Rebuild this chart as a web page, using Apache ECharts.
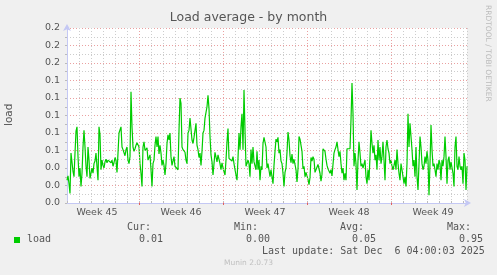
<!DOCTYPE html>
<html>
<head>
<meta charset="utf-8">
<script src="https://cdn.jsdelivr.net/npm/echarts@6/dist/echarts.min.js"></script>
<style>
  html, body { margin: 0; padding: 0; background: #f0f0f0; }
  #chart { width: 497px; height: 275px; }
</style>
</head>
<body>
<div id="chart"></div>
<script>
// load average, one sample every 2 hours starting Mon Nov 3 00:00
const loadAvg = [
  0.026, 0.031, 0.022, 0.011, 0.057, 0.057, 0.036, 0.030, 0.057, 0.082,
  0.087, 0.053, 0.030, 0.040, 0.019, 0.034, 0.064, 0.083, 0.064, 0.042,
  0.030, 0.064, 0.049, 0.028, 0.028, 0.040, 0.034, 0.045, 0.048, 0.057,
  0.055, 0.026, 0.087, 0.078, 0.038, 0.049, 0.043, 0.040, 0.047, 0.050,
  0.046, 0.049, 0.051, 0.048, 0.046, 0.049, 0.042, 0.046, 0.052, 0.049,
  0.035, 0.057, 0.080, 0.080, 0.087, 0.064, 0.061, 0.059, 0.054, 0.061,
  0.064, 0.049, 0.045, 0.053, 0.127, 0.087, 0.064, 0.059, 0.062, 0.066,
  0.069, 0.070, 0.064, 0.045, 0.034, 0.019, 0.064, 0.070, 0.060, 0.059,
  0.063, 0.049, 0.049, 0.055, 0.038, 0.019, 0.045, 0.049, 0.066, 0.076,
  0.064, 0.076, 0.056, 0.066, 0.057, 0.043, 0.049, 0.043, 0.032, 0.045,
  0.068, 0.078, 0.072, 0.080, 0.053, 0.043, 0.042, 0.053, 0.042, 0.042,
  0.043, 0.038, 0.083, 0.120, 0.114, 0.064, 0.061, 0.062, 0.058, 0.049,
  0.045, 0.080, 0.083, 0.097, 0.095, 0.072, 0.068, 0.075, 0.083, 0.091,
  0.066, 0.061, 0.052, 0.057,
  0.043, 0.059, 0.080, 0.083, 0.097, 0.096, 0.110, 0.123, 0.108, 0.076,
  0.055, 0.047, 0.032, 0.045, 0.058, 0.059, 0.047, 0.055, 0.050, 0.045,
  0.038, 0.046, 0.040, 0.040, 0.032, 0.049, 0.070, 0.085, 0.051, 0.049,
  0.052, 0.048, 0.053, 0.045, 0.038, 0.036, 0.026, 0.051, 0.080, 0.061,
  0.087, 0.102, 0.061, 0.129, 0.083, 0.042, 0.040, 0.049, 0.045, 0.030,
  0.061, 0.045, 0.064, 0.047, 0.049, 0.038, 0.059, 0.038, 0.049, 0.026,
  0.042, 0.038, 0.068, 0.075, 0.077, 0.064, 0.040, 0.045, 0.043, 0.030,
  0.038, 0.037, 0.022, 0.043, 0.059, 0.073, 0.070, 0.075, 0.057, 0.061,
  0.048, 0.045, 0.034, 0.019, 0.035, 0.040, 0.058, 0.081, 0.072, 0.054,
  0.046, 0.056, 0.045, 0.050, 0.049, 0.038, 0.024, 0.039, 0.076, 0.073,
  0.075, 0.059, 0.039, 0.042, 0.030, 0.035, 0.034, 0.027, 0.021, 0.029,
  0.052, 0.048, 0.053, 0.050, 0.035, 0.038, 0.037, 0.044, 0.044, 0.034,
  0.025, 0.033, 0.062, 0.062, 0.059, 0.050, 0.043, 0.039, 0.040, 0.034,
  0.038, 0.031, 0.031, 0.057, 0.061,
  0.064, 0.070, 0.061, 0.053, 0.059, 0.045, 0.034, 0.040, 0.026, 0.034,
  0.026, 0.062, 0.061, 0.062, 0.062, 0.095, 0.137, 0.102, 0.042, 0.057,
  0.045, 0.015, 0.049, 0.070, 0.057, 0.042, 0.045, 0.040, 0.042, 0.049,
  0.030, 0.022, 0.038, 0.026, 0.053, 0.083, 0.068, 0.057, 0.066, 0.049,
  0.055, 0.038, 0.072, 0.049, 0.064, 0.045, 0.053, 0.070, 0.049, 0.026,
  0.064, 0.072, 0.062, 0.057, 0.045, 0.049, 0.042, 0.038, 0.043, 0.049,
  0.038, 0.061, 0.045, 0.034, 0.026, 0.045, 0.038, 0.030, 0.022, 0.030,
  0.019, 0.045, 0.102, 0.064, 0.091, 0.076, 0.061, 0.042, 0.049, 0.030,
  0.064, 0.030, 0.015, 0.045, 0.076, 0.064, 0.045, 0.038, 0.042, 0.053,
  0.045, 0.059, 0.049, 0.009, 0.045, 0.089, 0.061, 0.042, 0.045, 0.038,
  0.030, 0.045, 0.038, 0.049, 0.045, 0.026, 0.049, 0.042, 0.053, 0.076,
  0.053, 0.022, 0.049, 0.053, 0.038, 0.047, 0.045, 0.034, 0.019, 0.064,
  0.076, 0.042, 0.038, 0.053, 0.042, 0.038, 0.042, 0.022, 0.057, 0.049,
  0.015, 0.042
]
const stepHours = 2
const weekStarts = [144, 312, 480, 648]        // Sundays, hours from start
const weekCenters = [60, 228, 396, 564, 732]
const weekLabels = ['Week 45', 'Week 46', 'Week 47', 'Week 48', 'Week 49']
const yTicks = { min: 0, max: 0.2, interval: 0.02 }

const legendHead = ['Cur:', 'Min:', 'Avg:', 'Max:']
const legendVals = ['0.01', '0.00', '0.05', '0.95']
const lastUpdate = 'Last update: Sat Dec  6 04:00:03 2025'

const chart = echarts.init(document.getElementById('chart'))

const mono = '"DejaVu Sans Mono", monospace'
const sans = '"DejaVu Sans", sans-serif'
const axisColor = '#c4c8f4'

const headX = [127, 234, 340, 447]
const valX = [139, 246, 352, 459]

const graphic = [
  { type: 'text', left: 'center', top: 11, style: { text: 'Load average - by month', font: '12.5px ' + sans, fill: '#555' } },
  { type: 'text', x: 4, y: 126, rotation: Math.PI / 2, style: { text: 'load', font: '10.5px ' + sans, fill: '#555' } },
  { type: 'text', x: 492, y: 5, rotation: -Math.PI / 2, style: { text: 'RRDTOOL / TOBI OETIKER', font: '7.5px ' + sans, fill: '#bbb' } },
  { type: 'rect', shape: { x: 14, y: 237, width: 6, height: 6 }, style: { fill: '#00cc00' } },
  { type: 'text', x: 27, y: 234, style: { text: 'load', font: '10px ' + mono, fill: '#555' } },
  { type: 'text', x: 262, y: 246, style: { text: lastUpdate, font: '10px ' + mono, fill: '#555' } },
  { type: 'text', left: 'center', top: 259, style: { text: 'Munin 2.0.73', font: '7.5px ' + sans, fill: '#c0c0c0' } }
]
legendHead.forEach((t, i) => {
  graphic.push({ type: 'text', x: headX[i], y: 222, style: { text: t, font: '10px ' + mono, fill: '#555' } })
  graphic.push({ type: 'text', x: valX[i], y: 234, style: { text: legendVals[i], font: '10px ' + mono, fill: '#555' } })
})

const option = {
  backgroundColor: '#f0f0f0',
  animation: false,
  grid: { left: 67, right: 30, top: 28, bottom: 72, show: true, backgroundColor: '#fff', borderWidth: 0 },
  xAxis: [
    {
      type: 'value', min: 0, max: 800, interval: 24,
      axisLine: { show: true, lineStyle: { color: axisColor }, symbol: ['none', 'arrow'], symbolSize: [6, 7], symbolOffset: [0, 4] },
      axisTick: { show: true, inside: true, length: 2, lineStyle: { color: '#bbb' } },
      axisLabel: { show: false },
      splitLine: { show: true, lineStyle: { color: '#ccc', type: [1, 2] } }
    },
    {
      type: 'value', min: 0, max: 800, position: 'bottom',
      axisLine: { show: false },
      axisTick: { show: true, customValues: weekStarts, length: 2, lineStyle: { color: '#e06060' } },
      axisLabel: {
        customValues: weekCenters, margin: 5, color: '#555', fontFamily: sans, fontSize: 9.5,
        formatter: (v) => weekLabels[weekCenters.indexOf(v)]
      },
      splitLine: { show: false }
    }
  ],
  yAxis: {
    type: 'value', min: yTicks.min, max: yTicks.max, interval: yTicks.interval,
    axisLine: { show: true, lineStyle: { color: axisColor }, symbol: ['none', 'arrow'], symbolSize: [6, 7], symbolOffset: [0, 4] },
    axisTick: { show: true, length: 2, lineStyle: { color: '#bbb' } },
    minorTick: { show: true, splitNumber: 2, length: 2, lineStyle: { color: '#bbb' } },
    axisLabel: { color: '#555', fontFamily: sans, fontSize: 9.5, margin: 7, formatter: (v) => v.toFixed(1) },
    splitLine: { show: true, lineStyle: { color: '#eaa0a0', type: [1, 2] } },
    minorSplitLine: { show: true, lineStyle: { color: '#ccc', type: [1, 2] } }
  },
  series: [
    {
      type: 'line',
      data: loadAvg.map((v, i) => [i * stepHours, v]),
      showSymbol: false,
      symbol: 'none',
      lineStyle: { color: '#00cc00', width: 1.2 },
      z: 3,
      markLine: {
        silent: true, symbol: 'none', label: { show: false }, animation: false,
        lineStyle: { color: '#eaa0a0', type: [1, 2], width: 1 },
        data: weekStarts.map((h) => ({ xAxis: h }))
      }
    }
  ],
  graphic: graphic
}

chart.setOption(option)
</script>
</body>
</html>
